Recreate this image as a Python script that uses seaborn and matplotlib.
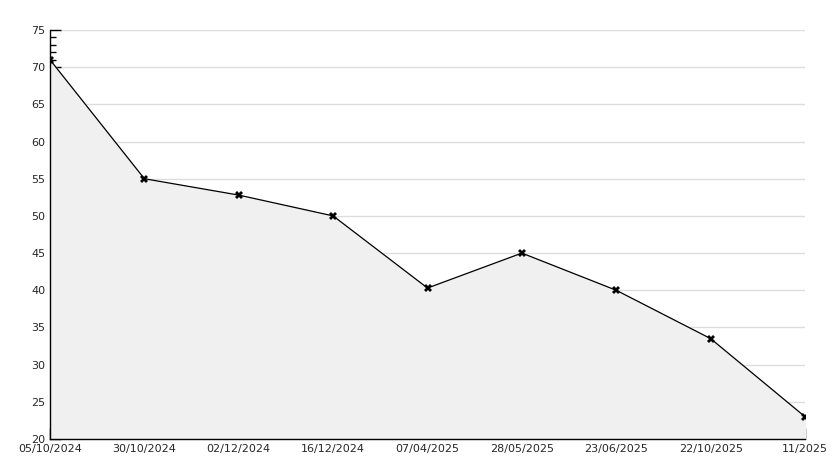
import matplotlib
matplotlib.use("Agg")
import matplotlib.pyplot as plt
import seaborn as sns
import pandas as pd
from matplotlib.ticker import MultipleLocator

dates = ["05/10/2024", "30/10/2024", "02/12/2024", "16/12/2024", "07/04/2025",
         "28/05/2025", "23/06/2025", "22/10/2025", "11/2025"]
values = [71, 55, 52.8, 50, 40.3, 45, 40, 33.5, 23]

df = pd.DataFrame({"pos": range(len(dates)), "value": values})

sns.set_theme(style="white")
plt.rcParams["font.family"] = ["DejaVu Sans"]

fig = plt.figure(figsize=(8.34, 4.68), dpi=100)
ax = fig.add_axes([50 / 834, 1 - 439 / 468, 755 / 834, 409 / 468])

ax.fill_between(df["pos"], df["value"], 20, color="#f0f0f0", zorder=1)
sns.lineplot(data=df, x="pos", y="value", ax=ax, color="black", linewidth=0.9,
             marker="X", markersize=6, markeredgewidth=0, zorder=3)

ax.set_xlim(0, len(dates) - 1)
ax.set_ylim(20, 75)
ax.yaxis.set_major_locator(MultipleLocator(5))
ax.yaxis.set_minor_locator(MultipleLocator(1))
ax.set_xticks(df["pos"])
ax.set_xticklabels(dates)
ax.grid(axis="y", which="major", color="#dddddd", linewidth=1, zorder=0)
ax.set_axisbelow(True)

for s in ["top", "right"]:
    ax.spines[s].set_visible(False)
for s in ["left", "bottom"]:
    ax.spines[s].set_color("black")
    ax.spines[s].set_linewidth(1)

ax.tick_params(axis="y", which="major", direction="in", length=8, width=1,
               color="black", labelsize=8, left=True)
ax.tick_params(axis="y", which="minor", direction="in", length=4, width=1,
               color="black", left=True)
ax.tick_params(axis="x", direction="in", length=8, width=1, color="black",
               labelsize=8, bottom=True)
ax.set_xlabel("")
ax.set_ylabel("")

fig.savefig("out.png", dpi=100)
